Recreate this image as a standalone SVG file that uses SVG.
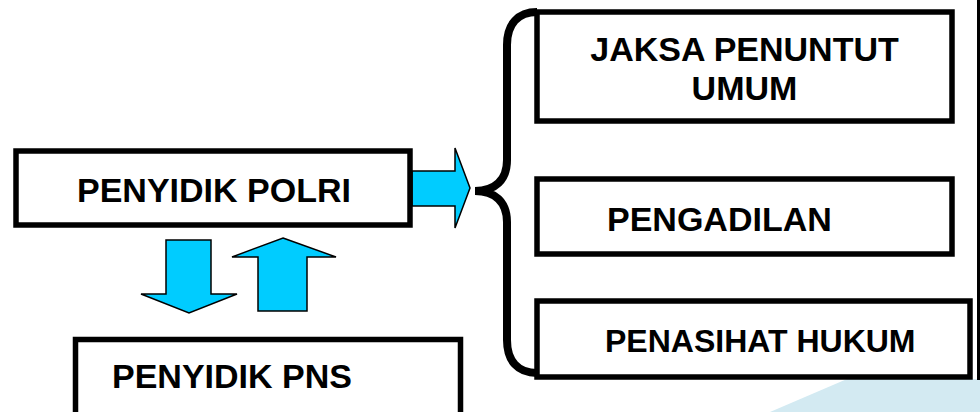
<svg xmlns="http://www.w3.org/2000/svg" width="980" height="412" viewBox="0 0 980 412">
  <style>
    .box { fill: #ffffff; stroke: #000000; stroke-width: 5.5; }
    .lbl { font-family: "Liberation Sans", Arial, sans-serif; font-weight: bold; font-size: 34px; fill: #000000; }
    .arrow { fill: #00ccff; stroke: #000000; stroke-width: 1.5; stroke-linejoin: miter; }
    .brace { fill: none; stroke: #000000; stroke-width: 8; stroke-linecap: butt; }
  </style>
  <rect x="0" y="0" width="980" height="412" fill="#ffffff"/>
  <polygon points="847,379 980,379 980,412 770,412" fill="#d3eaf2"/>
  <line x1="978.5" y1="0" x2="978.5" y2="380" stroke="#000000" stroke-width="3"/>

  <g id="connectors">
    <polygon class="arrow" points="412,171 455,171 455,148 470,188 455,228 455,206 412,206"/>
    <polygon class="arrow" points="166,240 211,240 211,294 237,294 189,313 141,294 166,294"/>
    <polygon class="arrow" points="283,238 336,257 307,257 307,311 258,311 258,257 232,257"/>
    <path class="brace" d="M537,12 C518,12 507,24 507,45 L507,160 C507,180 495,191 475,191 C495,191 507,202 507,222 L507,340 C507,361 518,373 537,373"/>
  </g>

  <g id="penyidik-polri">
    <rect class="box" x="16" y="151" width="394" height="74"/>
    <text class="lbl" x="77" y="202">PENYIDIK POLRI</text>
  </g>
  <g id="penyidik-pns">
    <rect class="box" x="75.5" y="339.5" width="385" height="100"/>
    <text class="lbl" x="112" y="388">PENYIDIK PNS</text>
  </g>
  <g id="jaksa">
    <rect class="box" x="537" y="12" width="415" height="109"/>
    <text class="lbl" x="744.5" y="61" text-anchor="middle">JAKSA PENUNTUT</text>
    <text class="lbl" x="744.5" y="100" text-anchor="middle">UMUM</text>
  </g>
  <g id="pengadilan">
    <rect class="box" x="537" y="179" width="415" height="75"/>
    <text class="lbl" x="607" y="231">PENGADILAN</text>
  </g>
  <g id="penasihat">
    <rect class="box" x="537" y="301" width="433" height="76"/>
    <text class="lbl" x="605" y="352" style="font-size:32px">PENASIHAT HUKUM</text>
  </g>
</svg>
